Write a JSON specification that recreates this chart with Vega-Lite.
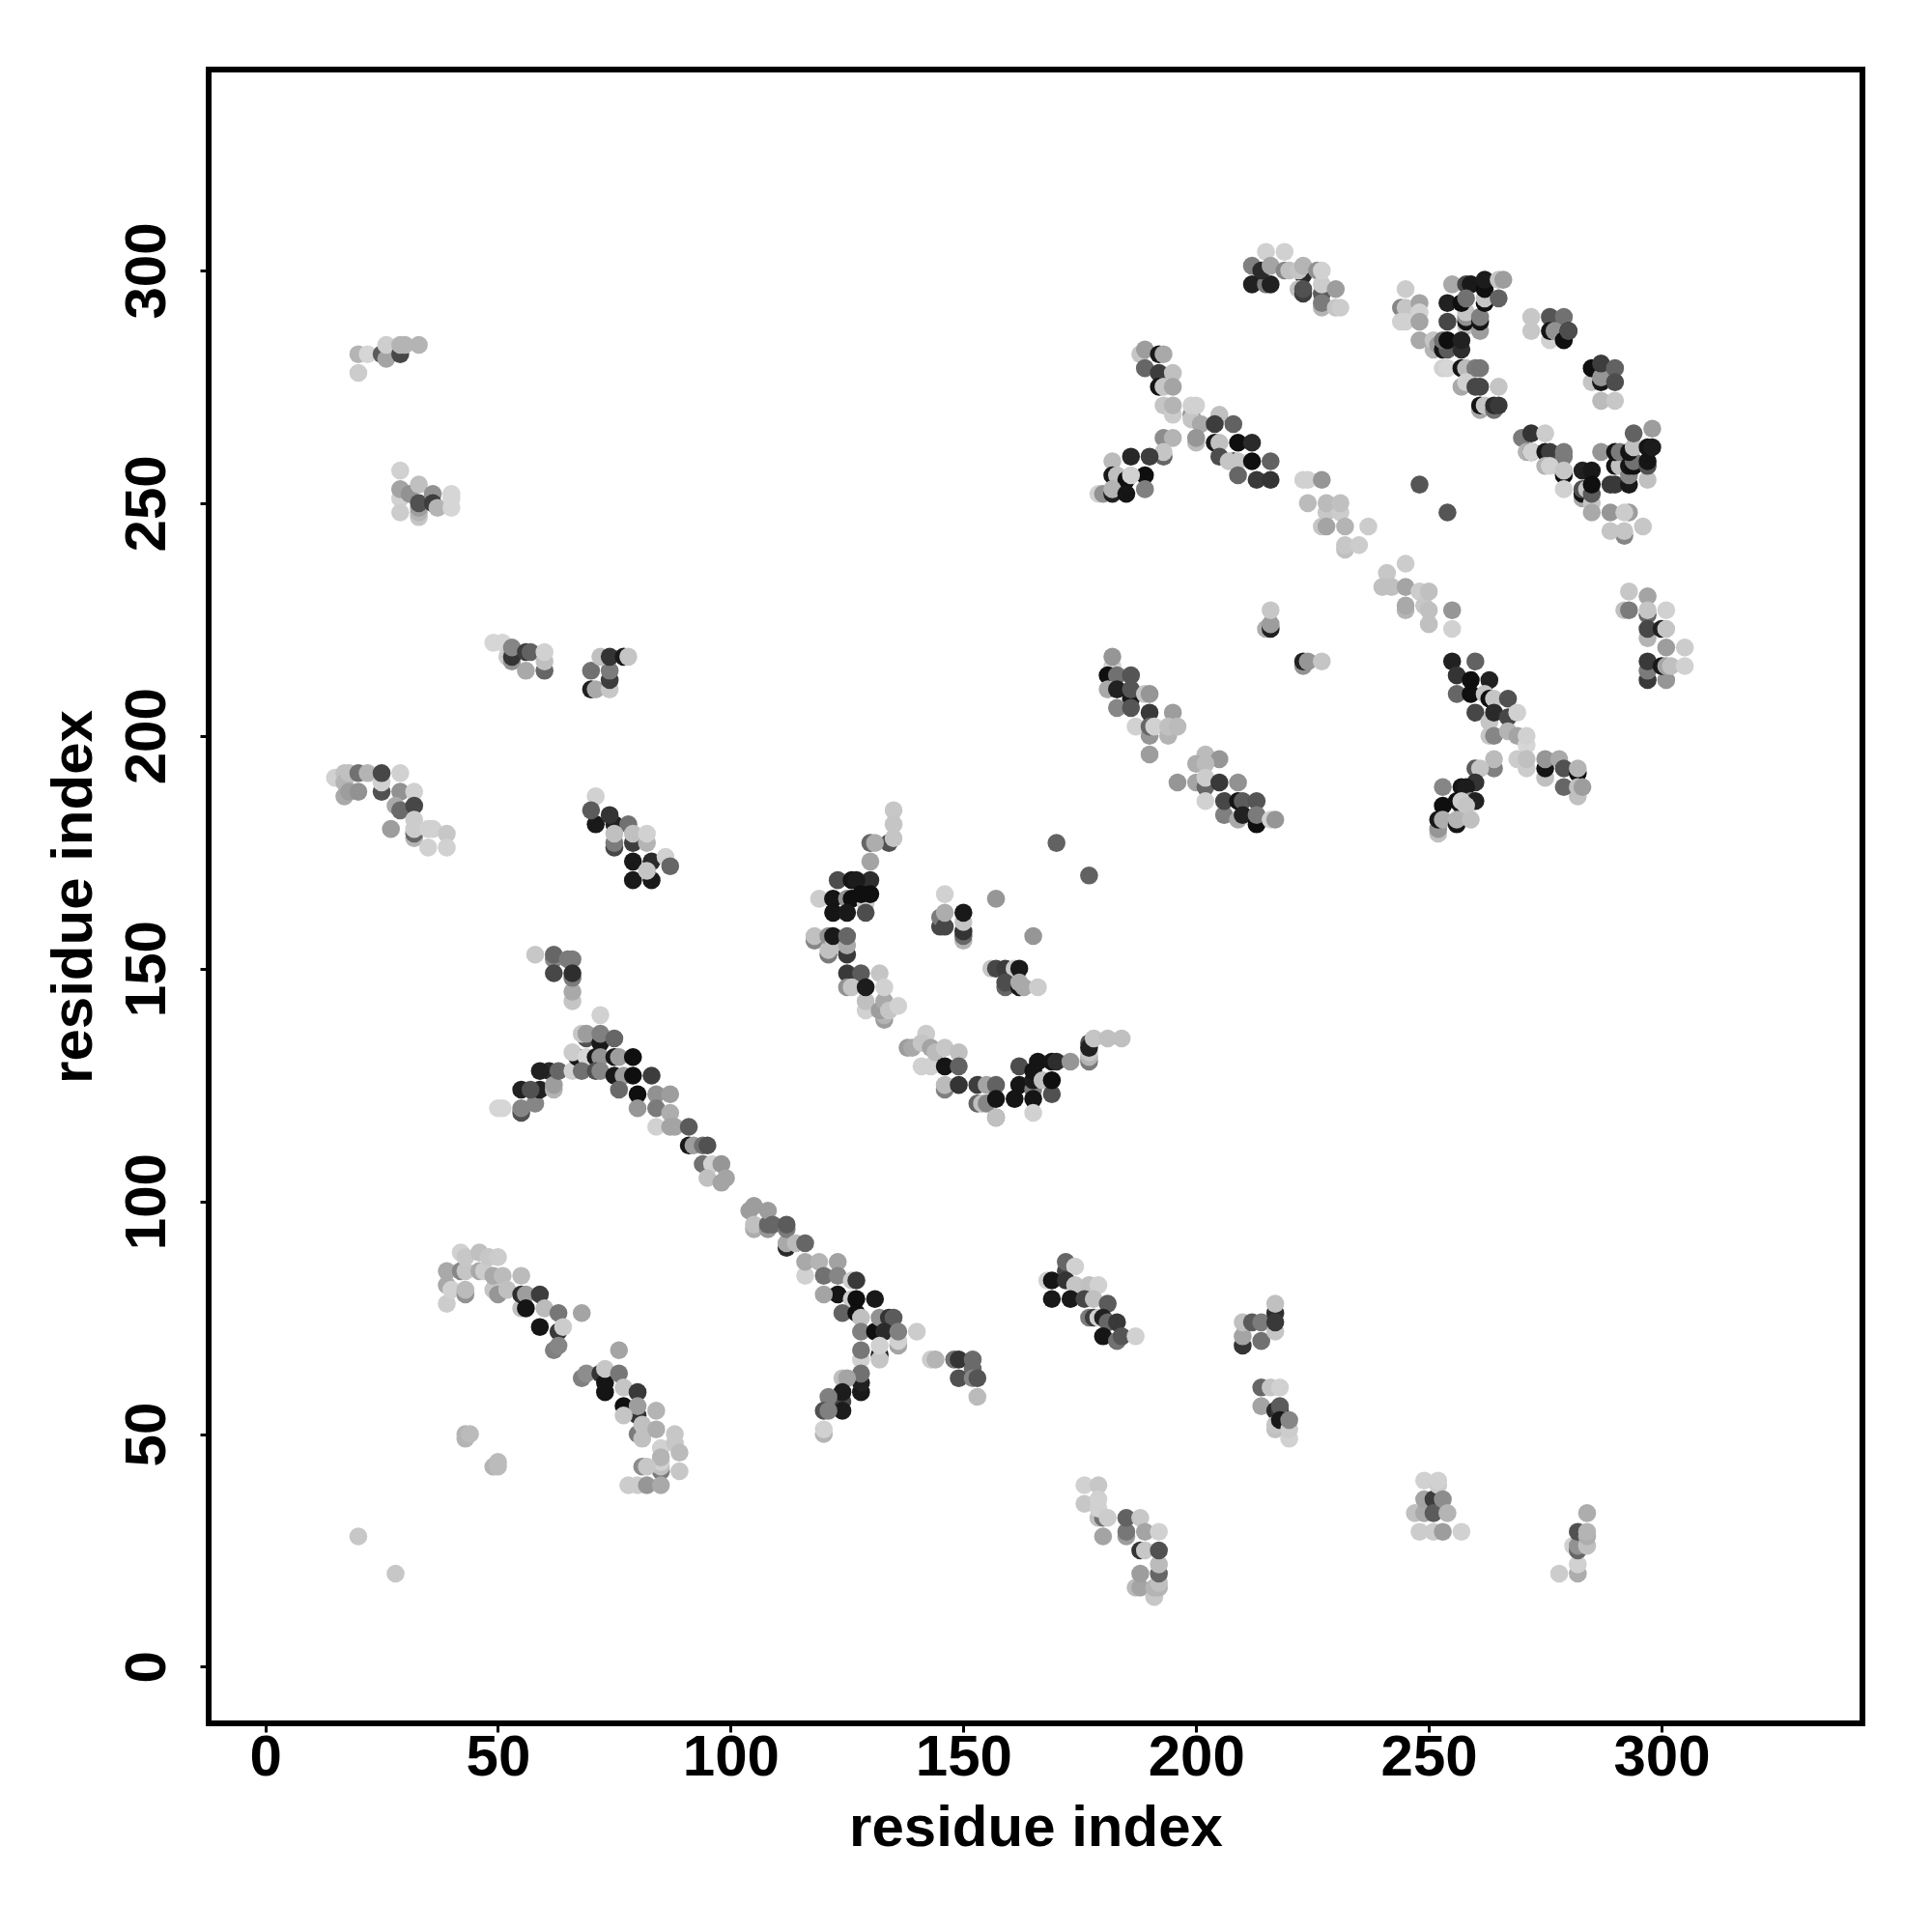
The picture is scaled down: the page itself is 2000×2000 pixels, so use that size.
{"$schema":"https://vega.github.io/schema/vega-lite/v6.json","width":1712,"height":1712,"autosize":{"type":"none"},"padding":{"left":216,"top":72,"right":72,"bottom":216},"background":"white","view":{"stroke":"black","strokeWidth":6,"fill":"white"},
"data":{"values":[
{"i":20,"j":282,"s":85},{"i":20,"j":278,"s":95},{"i":22,"j":282,"s":99},{"i":25,"j":282,"s":45},{"i":26,"j":281,"s":78},{"i":26,"j":284,"s":96},{"i":29,"j":282,"s":35},{"i":29,"j":284,"s":85},{"i":30,"j":284,"s":85},{"i":33,"j":284,"s":85},
{"i":29,"j":257,"s":97},{"i":29,"j":251,"s":97},{"i":29,"j":253,"s":78},{"i":29,"j":248,"s":95},{"i":31,"j":252,"s":70},{"i":33,"j":247,"s":92},{"i":33,"j":248,"s":85},{"i":33,"j":249,"s":75},{"i":33,"j":250,"s":40},{"i":33,"j":254,"s":90},{"i":36,"j":252,"s":70},{"i":36,"j":250,"s":30},{"i":37,"j":249,"s":85},{"i":40,"j":252,"s":99},{"i":40,"j":249,"s":99},{"i":40,"j":251,"s":99},
{"i":49,"j":220,"s":99},{"i":51,"j":220,"s":99},{"i":52,"j":217,"s":95},{"i":53,"j":216,"s":70},{"i":53,"j":217,"s":25},{"i":53,"j":219,"s":65},{"i":56,"j":218,"s":30},{"i":57,"j":218,"s":48},{"i":56,"j":214,"s":80},{"i":60,"j":214,"s":50},{"i":60,"j":216,"s":90},{"i":60,"j":218,"s":97},
{"i":70,"j":210,"s":15},{"i":70,"j":214,"s":55},{"i":71,"j":210,"s":80},{"i":74,"j":210,"s":93},{"i":74,"j":212,"s":30},{"i":74,"j":214,"s":60},{"i":72,"j":217,"s":90},{"i":74,"j":217,"s":25},{"i":77,"j":217,"s":10},{"i":78,"j":217,"s":92},
{"i":15,"j":191,"s":97},{"i":17,"j":192,"s":90},{"i":17,"j":190,"s":85},{"i":17,"j":187,"s":80},{"i":18,"j":192,"s":90},{"i":18,"j":188,"s":75},{"i":20,"j":192,"s":55},{"i":20,"j":188,"s":70},{"i":22,"j":192,"s":85},{"i":25,"j":188,"s":40},{"i":25,"j":190,"s":97},{"i":25,"j":192,"s":35},{"i":29,"j":192,"s":97},{"i":29,"j":188,"s":70},{"i":28,"j":185,"s":80},{"i":29,"j":184,"s":52},{"i":32,"j":188,"s":97},{"i":32,"j":185,"s":35},{"i":27,"j":180,"s":75},{"i":32,"j":178,"s":85},{"i":32,"j":179,"s":50},{"i":32,"j":180,"s":95},{"i":32,"j":182,"s":95},{"i":35,"j":180,"s":97},{"i":35,"j":176,"s":97},{"i":36,"j":180,"s":97},{"i":39,"j":179,"s":93},{"i":39,"j":176,"s":97},
{"i":71,"j":187,"s":97},{"i":71,"j":181,"s":10},{"i":70,"j":184,"s":45},{"i":75,"j":181,"s":15},{"i":74,"j":183,"s":25},{"i":78,"j":181,"s":55},{"i":75,"j":176,"s":35},{"i":75,"j":177,"s":60},{"i":75,"j":179,"s":90},{"i":79,"j":177,"s":30},{"i":79,"j":179,"s":90},{"i":82,"j":177,"s":85},{"i":82,"j":179,"s":97},{"i":79,"j":173,"s":10},{"i":79,"j":169,"s":10},{"i":83,"j":173,"s":20},{"i":83,"j":169,"s":10},{"i":82,"j":171,"s":92},{"i":86,"j":174,"s":97},{"i":87,"j":172,"s":50},
{"i":58,"j":153,"s":93},{"i":62,"j":152,"s":65},{"i":62,"j":153,"s":50},{"i":62,"j":149,"s":35},{"i":65,"j":152,"s":60},{"i":66,"j":152,"s":60},{"i":66,"j":143,"s":92},{"i":66,"j":145,"s":80},{"i":66,"j":148,"s":60},{"i":66,"j":149,"s":22},
{"i":50,"j":120,"s":99},{"i":51,"j":120,"s":99},{"i":55,"j":119,"s":40},{"i":55,"j":120,"s":65},{"i":55,"j":124,"s":15},{"i":58,"j":121,"s":65},{"i":59,"j":124,"s":15},{"i":57,"j":124,"s":40},{"i":61,"j":128,"s":20},{"i":59,"j":128,"s":15},{"i":62,"j":124,"s":85},{"i":62,"j":125,"s":75},{"i":63,"j":128,"s":50},{"i":66,"j":128,"s":97},{"i":67,"j":131,"s":10},{"i":66,"j":132,"s":95},{"i":69,"j":131,"s":99},{"i":68,"j":128,"s":55},{"i":69,"j":135,"s":40},{"i":68,"j":136,"s":93},{"i":69,"j":136,"s":75},{"i":72,"j":140,"s":97},{"i":72,"j":134,"s":10},{"i":72,"j":136,"s":62},{"i":71,"j":131,"s":10},{"i":72,"j":131,"s":70},{"i":71,"j":128,"s":40},{"i":72,"j":128,"s":65},{"i":75,"j":135,"s":50},{"i":75,"j":131,"s":10},{"i":76,"j":131,"s":75},{"i":75,"j":127,"s":10},{"i":77,"j":127,"s":75},{"i":76,"j":124,"s":52},{"i":79,"j":131,"s":5},{"i":79,"j":127,"s":5},{"i":80,"j":123,"s":5},{"i":80,"j":120,"s":72},{"i":83,"j":127,"s":30},{"i":84,"j":123,"s":70},{"i":87,"j":123,"s":75},{"i":84,"j":120,"s":60},{"i":87,"j":119,"s":82},{"i":84,"j":116,"s":97},{"i":87,"j":116,"s":78},{"i":88,"j":116,"s":78},{"i":91,"j":116,"s":45},{"i":91,"j":112,"s":10},{"i":92,"j":112,"s":75},{"i":94,"j":112,"s":55},{"i":95,"j":112,"s":40},{"i":94,"j":108,"s":55},{"i":96,"j":108,"s":97},{"i":98,"j":108,"s":72},{"i":95,"j":105,"s":90},{"i":98,"j":104,"s":78},{"i":99,"j":105,"s":78},
{"i":104,"j":98,"s":75},{"i":105,"j":99,"s":75},{"i":105,"j":94,"s":82},{"i":105,"j":95,"s":90},{"i":108,"j":94,"s":72},{"i":108,"j":95,"s":50},{"i":108,"j":98,"s":75},{"i":109,"j":95,"s":50},{"i":112,"j":90,"s":20},{"i":112,"j":91,"s":80},{"i":112,"j":94,"s":60},{"i":112,"j":95,"s":45},{"i":114,"j":91,"s":88},{"i":116,"j":91,"s":50},{"i":116,"j":84,"s":97},{"i":116,"j":87,"s":80},{"i":119,"j":87,"s":85},{"i":123,"j":87,"s":77},{"i":120,"j":84,"s":55},{"i":123,"j":84,"s":65},{"i":123,"j":80,"s":8},{"i":120,"j":80,"s":78},{"i":126,"j":83,"s":95},{"i":127,"j":83,"s":28},{"i":126,"j":79,"s":95},{"i":127,"j":79,"s":5},{"i":131,"j":79,"s":10},{"i":124,"j":76,"s":48},{"i":127,"j":76,"s":5},{"i":128,"j":75,"s":90},{"i":128,"j":72,"s":62},{"i":128,"j":66,"s":97},{"i":128,"j":68,"s":58},{"i":131,"j":72,"s":5},{"i":132,"j":75,"s":70},{"i":134,"j":75,"s":25},{"i":135,"j":75,"s":45},{"i":133,"j":72,"s":20},{"i":132,"j":67,"s":15},{"i":132,"j":66,"s":92},{"i":132,"j":69,"s":97},{"i":136,"j":69,"s":78},{"i":136,"j":70,"s":97},{"i":136,"j":72,"s":62},{"i":140,"j":72,"s":95},
{"i":128,"j":59,"s":10},{"i":128,"j":61,"s":15},{"i":128,"j":63,"s":55},{"i":124,"j":62,"s":90},{"i":125,"j":62,"s":78},{"i":124,"j":57,"s":35},{"i":124,"j":59,"s":12},{"i":121,"j":58,"s":62},{"i":124,"j":55,"s":12},{"i":120,"j":55,"s":40},{"i":121,"j":55,"s":62},{"i":120,"j":50,"s":85},{"i":120,"j":51,"s":97},
{"i":143,"j":66,"s":95},{"i":144,"j":66,"s":85},{"i":148,"j":66,"s":55},{"i":149,"j":66,"s":25},{"i":152,"j":64,"s":52},{"i":152,"j":66,"s":52},{"i":149,"j":62,"s":40},{"i":152,"j":62,"s":65},{"i":153,"j":62,"s":42},{"i":153,"j":58,"s":88},
{"i":172,"j":85,"s":35},{"i":172,"j":87,"s":50},{"i":174,"j":86,"s":97},{"i":168,"j":83,"s":97},{"i":169,"j":83,"s":8},{"i":172,"j":83,"s":25},{"i":174,"j":82,"s":92},{"i":169,"j":79,"s":10},{"i":173,"j":79,"s":10},{"i":177,"j":82,"s":90},{"i":179,"j":82,"s":97},{"i":176,"j":79,"s":35},{"i":178,"j":79,"s":90},{"i":181,"j":78,"s":45},{"i":177,"j":75,"s":60},{"i":178,"j":75,"s":30},{"i":179,"j":75,"s":97},{"i":180,"j":75,"s":15},{"i":181,"j":74,"s":50},{"i":183,"j":74,"s":28},{"i":180,"j":71,"s":8},{"i":183,"j":70,"s":55},{"i":184,"j":71,"s":42},{"i":187,"j":71,"s":97},
{"i":39,"j":85,"s":80},{"i":39,"j":82,"s":80},{"i":39,"j":78,"s":95},{"i":40,"j":81,"s":97},{"i":42,"j":85,"s":65},{"i":43,"j":85,"s":92},{"i":43,"j":80,"s":70},{"i":43,"j":81,"s":88},{"i":42,"j":89,"s":97},{"i":43,"j":88,"s":93},{"i":46,"j":85,"s":80},{"i":47,"j":85,"s":95},{"i":46,"j":89,"s":90},{"i":48,"j":88,"s":93},{"i":50,"j":88,"s":95},{"i":49,"j":81,"s":92},{"i":50,"j":80,"s":72},{"i":49,"j":84,"s":80},{"i":51,"j":84,"s":88},{"i":52,"j":81,"s":90},{"i":55,"j":84,"s":88},{"i":55,"j":77,"s":90},{"i":55,"j":80,"s":22},{"i":56,"j":80,"s":75},{"i":59,"j":80,"s":30},{"i":56,"j":77,"s":8},{"i":59,"j":73,"s":8},{"i":60,"j":77,"s":88},{"i":63,"j":72,"s":28},{"i":63,"j":76,"s":58},{"i":64,"j":73,"s":95},{"i":62,"j":68,"s":62},{"i":63,"j":69,"s":65},{"i":68,"j":76,"s":78},
{"i":76,"j":68,"s":78},{"i":68,"j":62,"s":62},{"i":69,"j":63,"s":68},{"i":72,"j":63,"s":25},{"i":73,"j":59,"s":8},{"i":73,"j":61,"s":8},{"i":73,"j":64,"s":93},{"i":76,"j":63,"s":58},{"i":77,"j":56,"s":5},{"i":77,"j":60,"s":92},{"i":80,"j":59,"s":28},{"i":80,"j":54,"s":25},{"i":80,"j":56,"s":75},{"i":77,"j":54,"s":92},{"i":84,"j":55,"s":85},{"i":80,"j":50,"s":60},{"i":81,"j":49,"s":90},{"i":81,"j":52,"s":90},{"i":84,"j":51,"s":82},{"i":88,"j":50,"s":93},{"i":85,"j":47,"s":97},{"i":88,"j":48,"s":93},{"i":89,"j":46,"s":88},{"i":85,"j":42,"s":60},{"i":85,"j":43,"s":90},{"i":85,"j":44,"s":97},{"i":85,"j":45,"s":85},{"i":81,"j":43,"s":68},{"i":82,"j":43,"s":93},{"i":89,"j":42,"s":93},{"i":78,"j":39,"s":95},{"i":80,"j":39,"s":95},{"i":82,"j":39,"s":72},{"i":85,"j":39,"s":80},
{"i":43,"j":49,"s":85},{"i":43,"j":50,"s":85},{"i":44,"j":50,"s":88},{"i":49,"j":43,"s":85},{"i":50,"j":43,"s":88},{"i":50,"j":44,"s":88},{"i":20,"j":28,"s":93},{"i":28,"j":20,"s":93},
{"i":210,"j":69,"s":25},{"i":210,"j":71,"s":78},{"i":210,"j":74,"s":90},{"i":212,"j":74,"s":45},{"i":214,"j":70,"s":55},{"i":214,"j":74,"s":60},{"i":217,"j":72,"s":92},{"i":217,"j":76,"s":22},{"i":217,"j":74,"s":28},{"i":217,"j":78,"s":90},
{"i":214,"j":60,"s":50},{"i":214,"j":56,"s":78},{"i":216,"j":60,"s":92},{"i":218,"j":60,"s":97},{"i":217,"j":55,"s":20},{"i":218,"j":55,"s":30},{"i":218,"j":56,"s":45},{"i":217,"j":51,"s":90},{"i":217,"j":52,"s":92},{"i":218,"j":53,"s":10},{"i":220,"j":49,"s":97},{"i":220,"j":51,"s":95},{"i":220,"j":53,"s":65},
{"i":176,"j":39,"s":97},{"i":179,"j":39,"s":93},{"i":176,"j":35,"s":93},{"i":179,"j":36,"s":97},{"i":179,"j":32,"s":90},{"i":180,"j":32,"s":55},{"i":179,"j":34,"s":97},{"i":181,"j":32,"s":95},{"i":180,"j":28,"s":78},{"i":185,"j":28,"s":75},{"i":185,"j":29,"s":58},{"i":185,"j":32,"s":48},{"i":188,"j":32,"s":93},{"i":189,"j":29,"s":78},{"i":192,"j":29,"s":97},{"i":188,"j":25,"s":25},{"i":189,"j":25,"s":93},{"i":187,"j":17,"s":88},{"i":188,"j":17,"s":78},{"i":188,"j":20,"s":75},{"i":191,"j":15,"s":93},{"i":191,"j":17,"s":85},{"i":192,"j":17,"s":85},{"i":192,"j":18,"s":90},{"i":192,"j":20,"s":50},{"i":192,"j":22,"s":88},{"i":192,"j":25,"s":40},
{"i":247,"j":33,"s":90},{"i":249,"j":33,"s":80},{"i":249,"j":36,"s":78},{"i":251,"j":36,"s":30},{"i":251,"j":33,"s":45},{"i":249,"j":40,"s":97},{"i":252,"j":39,"s":95},{"i":252,"j":40,"s":97},{"i":253,"j":36,"s":68},{"i":254,"j":33,"s":85},{"i":248,"j":29,"s":95},{"i":251,"j":29,"s":95},{"i":257,"j":29,"s":97},{"i":253,"j":29,"s":75},
{"i":282,"j":20,"s":82},{"i":282,"j":22,"s":97},{"i":278,"j":20,"s":95},{"i":281,"j":26,"s":97},{"i":282,"j":25,"s":50},{"i":282,"j":26,"s":70},{"i":284,"j":26,"s":90},{"i":282,"j":29,"s":40},{"i":284,"j":28,"s":82},{"i":284,"j":29,"s":85},{"i":284,"j":33,"s":82},
{"i":215,"j":304,"s":97},{"i":219,"j":304,"s":97},{"i":212,"j":297,"s":15},{"i":215,"j":297,"s":60},{"i":216,"j":297,"s":15},{"i":212,"j":301,"s":62},{"i":214,"j":300,"s":20},{"i":216,"j":301,"s":78},{"i":219,"j":300,"s":65},{"i":220,"j":300,"s":90},{"i":223,"j":299,"s":20},{"i":222,"j":300,"s":92},{"i":223,"j":301,"s":85},{"i":222,"j":296,"s":90},{"i":223,"j":295,"s":30},{"i":223,"j":296,"s":40},{"i":226,"j":300,"s":70},{"i":227,"j":295,"s":45},{"i":227,"j":297,"s":95},{"i":227,"j":300,"s":97},{"i":230,"j":296,"s":75},{"i":227,"j":292,"s":85},{"i":227,"j":293,"s":60},{"i":230,"j":292,"s":92},{"i":231,"j":292,"s":95},
{"i":188,"j":282,"s":92},{"i":189,"j":283,"s":75},{"i":189,"j":279,"s":50},{"i":192,"j":282,"s":10},{"i":193,"j":282,"s":80},{"i":192,"j":278,"s":30},{"i":195,"j":278,"s":90},{"i":192,"j":275,"s":8},{"i":193,"j":275,"s":92},{"i":195,"j":275,"s":78},{"i":193,"j":271,"s":92},{"i":195,"j":269,"s":95},{"i":195,"j":271,"s":85},{"i":199,"j":269,"s":70},{"i":199,"j":268,"s":92},{"i":199,"j":271,"s":97},{"i":200,"j":271,"s":97},{"i":201,"j":267,"s":80},{"i":200,"j":263,"s":88},{"i":200,"j":264,"s":72},
{"i":193,"j":264,"s":68},{"i":195,"j":264,"s":85},{"i":193,"j":260,"s":50},{"i":193,"j":261,"s":92},{"i":186,"j":260,"s":18},{"i":190,"j":260,"s":30},{"i":182,"j":259,"s":88},{"i":189,"j":256,"s":5},{"i":182,"j":256,"s":10},{"i":183,"j":256,"s":90},{"i":185,"j":255,"s":5},{"i":186,"j":256,"s":97},{"i":189,"j":253,"s":62},{"i":179,"j":252,"s":97},{"i":180,"j":252,"s":70},{"i":182,"j":252,"s":15},{"i":182,"j":253,"s":85},{"i":185,"j":252,"s":8},
{"i":205,"j":269,"s":90},{"i":204,"j":267,"s":30},{"i":208,"j":267,"s":48},{"i":204,"j":263,"s":10},{"i":205,"j":263,"s":90},{"i":209,"j":263,"s":5},{"i":212,"j":263,"s":20},{"i":205,"j":260,"s":38},{"i":208,"j":259,"s":10},{"i":207,"j":259,"s":92},{"i":209,"j":259,"s":92},{"i":212,"j":259,"s":5},{"i":216,"j":259,"s":48},{"i":209,"j":256,"s":50},{"i":213,"j":255,"s":28},{"i":216,"j":255,"s":25},
{"i":223,"j":255,"s":97},{"i":224,"j":255,"s":97},{"i":227,"j":255,"s":72},{"i":224,"j":250,"s":88},{"i":228,"j":248,"s":93},{"i":228,"j":250,"s":88},{"i":231,"j":248,"s":95},{"i":231,"j":250,"s":90},{"i":227,"j":245,"s":92},{"i":228,"j":245,"s":78},{"i":232,"j":245,"s":85},{"i":237,"j":245,"s":95},{"i":232,"j":240,"s":90},{"i":232,"j":241,"s":93},{"i":235,"j":241,"s":95},{"i":248,"j":254,"s":42},{"i":254,"j":248,"s":42},
{"i":245,"j":237,"s":95},{"i":241,"j":235,"s":93},{"i":240,"j":232,"s":90},{"i":242,"j":232,"s":90},{"i":245,"j":232,"s":78},{"i":245,"j":227,"s":85},{"i":245,"j":228,"s":80},{"i":248,"j":231,"s":95},{"i":249,"j":228,"s":93},{"i":250,"j":224,"s":90},{"i":250,"j":227,"s":90},{"i":250,"j":231,"s":90},{"i":255,"j":223,"s":97},{"i":255,"j":227,"s":72},
{"i":245,"j":296,"s":95},{"i":244,"j":292,"s":65},{"i":245,"j":292,"s":92},{"i":248,"j":293,"s":78},{"i":244,"j":289,"s":97},{"i":245,"j":289,"s":97},{"i":248,"j":291,"s":97},{"i":248,"j":289,"s":78},{"i":255,"j":297,"s":80},{"i":254,"j":293,"s":15},{"i":254,"j":289,"s":35},{"i":258,"j":297,"s":35},{"i":259,"j":297,"s":10},{"i":258,"j":288,"s":90},{"i":258,"j":289,"s":8},{"i":258,"j":290,"s":70},{"i":258,"j":291,"s":92},{"i":257,"j":293,"s":5},{"i":258,"j":294,"s":55},{"i":261,"j":287,"s":75},{"i":261,"j":289,"s":8},{"i":261,"j":290,"s":62},{"i":262,"j":293,"s":5},{"i":262,"j":294,"s":92},{"i":262,"j":296,"s":5},{"i":262,"j":298,"s":12},{"i":265,"j":298,"s":92},{"i":266,"j":298,"s":75},{"i":265,"j":294,"s":48},
{"i":248,"j":285,"s":80},{"i":251,"j":283,"s":85},{"i":251,"j":285,"s":92},{"i":252,"j":284,"s":75},{"i":253,"j":283,"s":8},{"i":254,"j":283,"s":45},{"i":253,"j":285,"s":55},{"i":254,"j":285,"s":5},{"i":257,"j":283,"s":22},{"i":257,"j":285,"s":15},
{"i":253,"j":279,"s":97},{"i":254,"j":279,"s":99},{"i":257,"j":279,"s":8},{"i":258,"j":279,"s":88},{"i":260,"j":279,"s":60},{"i":261,"j":279,"s":58},{"i":257,"j":275,"s":80},{"i":258,"j":276,"s":97},{"i":260,"j":275,"s":35},{"i":261,"j":275,"s":35},{"i":261,"j":270,"s":80},{"i":261,"j":271,"s":8},{"i":262,"j":271,"s":92},{"i":265,"j":275,"s":92},{"i":264,"j":270,"s":55},{"i":264,"j":271,"s":20},{"i":265,"j":271,"s":28},
{"i":272,"j":290,"s":93},{"i":272,"j":287,"s":93},{"i":276,"j":290,"s":42},{"i":279,"j":290,"s":55},{"i":276,"j":285,"s":97},{"i":276,"j":287,"s":8},{"i":277,"j":287,"s":70},{"i":279,"j":285,"s":5},{"i":280,"j":287,"s":10},{"i":280,"j":287,"s":38},
{"i":285,"j":276,"s":92},{"i":285,"j":279,"s":5},{"i":287,"j":272,"s":88},{"i":290,"j":272,"s":93},{"i":287,"j":276,"s":10},{"i":287,"j":277,"s":72},{"i":287,"j":280,"s":30},{"i":290,"j":279,"s":48},{"i":290,"j":276,"s":38},
{"i":270,"j":264,"s":60},{"i":271,"j":261,"s":85},{"i":272,"j":261,"s":8},{"i":272,"j":265,"s":25},{"i":272,"j":261,"s":97},{"i":275,"j":265,"s":95},{"i":275,"j":261,"s":10},{"i":276,"j":261,"s":30},{"i":279,"j":260,"s":60},{"i":279,"j":261,"s":60},{"i":275,"j":258,"s":85},{"i":276,"j":258,"s":97},{"i":279,"j":256,"s":5},{"i":279,"j":257,"s":93},{"i":279,"j":253,"s":97},{"i":283,"j":251,"s":80},{"i":283,"j":252,"s":8},{"i":283,"j":253,"s":40},{"i":284,"j":253,"s":92},{"i":283,"j":257,"s":15},{"i":285,"j":257,"s":10},{"i":285,"j":250,"s":92},{"i":285,"j":252,"s":45},{"i":285,"j":254,"s":5},{"i":285,"j":248,"s":80},{"i":289,"j":248,"s":72},{"i":293,"j":248,"s":75},{"i":292,"j":243,"s":65},{"i":289,"j":244,"s":92},{"i":292,"j":244,"s":92},{"i":292,"j":248,"s":95},{"i":296,"j":245,"s":93},
{"i":287,"j":261,"s":72},{"i":289,"j":254,"s":28},{"i":290,"j":254,"s":28},{"i":290,"j":258,"s":8},{"i":291,"j":258,"s":90},{"i":290,"j":261,"s":8},{"i":291,"j":261,"s":60},{"i":293,"j":254,"s":10},{"i":293,"j":256,"s":65},{"i":293,"j":258,"s":8},{"i":294,"j":258,"s":5},{"i":294,"j":259,"s":55},{"i":293,"j":261,"s":8},{"i":294,"j":262,"s":90},{"i":294,"j":265,"s":48},{"i":297,"j":255,"s":90},{"i":297,"j":258,"s":40},{"i":297,"j":259,"s":8},{"i":298,"j":266,"s":75},{"i":297,"j":262,"s":8},{"i":298,"j":262,"s":12},
{"i":215,"j":223,"s":82},{"i":216,"j":223,"s":15},{"i":216,"j":224,"s":75},{"i":216,"j":227,"s":93},{"i":223,"j":215,"s":70},{"i":223,"j":216,"s":15},{"i":224,"j":216,"s":72},{"i":227,"j":216,"s":92},
{"i":182,"j":215,"s":97},{"i":182,"j":217,"s":72},{"i":181,"j":213,"s":5},{"i":183,"j":213,"s":55},{"i":186,"j":213,"s":42},{"i":181,"j":210,"s":80},{"i":183,"j":210,"s":15},{"i":186,"j":208,"s":10},{"i":186,"j":210,"s":42},{"i":189,"j":209,"s":92},{"i":190,"j":209,"s":72},{"i":183,"j":206,"s":65},{"i":186,"j":206,"s":42},{"i":190,"j":205,"s":28},{"i":187,"j":202,"s":97},{"i":190,"j":200,"s":72},{"i":190,"j":202,"s":50},{"i":191,"j":202,"s":97},{"i":195,"j":205,"s":75},{"i":194,"j":200,"s":85},{"i":194,"j":202,"s":90},{"i":196,"j":202,"s":88},{"i":190,"j":196,"s":75},
{"i":202,"j":196,"s":88},{"i":205,"j":195,"s":72},{"i":200,"j":194,"s":82},{"i":202,"j":194,"s":88},{"i":196,"j":190,"s":72},{"i":200,"j":190,"s":78},{"i":202,"j":189,"s":50},{"i":202,"j":191,"s":95},{"i":205,"j":190,"s":28},{"i":209,"j":190,"s":70},{"i":202,"j":186,"s":97},{"i":206,"j":183,"s":62},{"i":206,"j":186,"s":35},{"i":209,"j":186,"s":8},{"i":210,"j":186,"s":45},{"i":213,"j":186,"s":42},{"i":209,"j":182,"s":80},{"i":210,"j":183,"s":15},{"i":213,"j":181,"s":5},{"i":213,"j":183,"s":60},{"i":216,"j":182,"s":97},{"i":217,"j":182,"s":72},
{"i":255,"j":216,"s":15},{"i":260,"j":216,"s":48},{"i":256,"j":213,"s":25},{"i":259,"j":212,"s":5},{"i":263,"j":212,"s":15},{"i":256,"j":209,"s":50},{"i":259,"j":209,"s":5},{"i":262,"j":209,"s":92},{"i":263,"j":208,"s":5},{"i":264,"j":208,"s":92},{"i":267,"j":208,"s":40},{"i":260,"j":205,"s":35},{"i":263,"j":203,"s":92},{"i":264,"j":205,"s":20},{"i":267,"j":204,"s":35},{"i":269,"j":205,"s":97},{"i":263,"j":200,"s":92},{"i":264,"j":200,"s":65},{"i":267,"j":201,"s":85},{"i":269,"j":200,"s":78},{"i":271,"j":198,"s":99},{"i":271,"j":200,"s":97},{"i":269,"j":195,"s":95},{"i":271,"j":193,"s":95},{"i":271,"j":195,"s":90},{"i":275,"j":191,"s":90},{"i":275,"j":193,"s":8},{"i":275,"j":195,"s":72},{"i":278,"j":195,"s":80},{"i":279,"j":193,"s":40},{"i":282,"j":192,"s":5},{"i":282,"j":193,"s":85},{"i":282,"j":187,"s":90},{"i":279,"j":189,"s":50},{"i":282,"j":189,"s":90},{"i":283,"j":189,"s":75},
{"i":264,"j":193,"s":62},{"i":264,"j":195,"s":88},{"i":260,"j":193,"s":45},{"i":261,"j":193,"s":92},{"i":260,"j":190,"s":25},{"i":253,"j":189,"s":65},{"i":257,"j":189,"s":8},{"i":258,"j":189,"s":12},{"i":259,"j":186,"s":70},{"i":260,"j":186,"s":15},{"i":253,"j":185,"s":5},{"i":256,"j":186,"s":5},{"i":257,"j":185,"s":10},{"i":257,"j":186,"s":95},{"i":258,"j":185,"s":92},{"i":252,"j":179,"s":90},{"i":252,"j":180,"s":72},{"i":252,"j":182,"s":10},{"i":253,"j":182,"s":82},{"i":256,"j":181,"s":8},{"i":256,"j":182,"s":85},{"i":259,"j":182,"s":90},
{"i":293,"j":231,"s":93},{"i":297,"j":230,"s":78},{"i":292,"j":227,"s":90},{"i":293,"j":227,"s":60},{"i":297,"j":226,"s":50},{"i":297,"j":227,"s":92},{"i":301,"j":227,"s":97},{"i":297,"j":221,"s":85},{"i":297,"j":223,"s":35},{"i":300,"j":223,"s":15},{"i":301,"j":223,"s":92},{"i":301,"j":219,"s":75},{"i":305,"j":219,"s":95},{"i":297,"j":212,"s":28},{"i":297,"j":214,"s":60},{"i":297,"j":216,"s":28},{"i":301,"j":212,"s":72},{"i":300,"j":215,"s":10},{"i":301,"j":215,"s":78},{"i":302,"j":215,"s":90},{"i":305,"j":215,"s":97},
{"i":135,"j":184,"s":93},{"i":135,"j":181,"s":92},{"i":134,"j":177,"s":40},{"i":135,"j":178,"s":92},{"i":130,"j":177,"s":50},{"i":131,"j":177,"s":82},{"i":130,"j":173,"s":78},{"i":130,"j":169,"s":22},{"i":123,"j":169,"s":38},{"i":126,"j":169,"s":8},{"i":127,"j":169,"s":12},{"i":119,"j":165,"s":95},{"i":122,"j":165,"s":8},{"i":125,"j":165,"s":70},{"i":126,"j":165,"s":5},{"i":129,"j":164,"s":95},{"i":128,"j":166,"s":5},{"i":130,"j":166,"s":5},{"i":122,"j":162,"s":8},{"i":125,"j":162,"s":10},{"i":129,"j":162,"s":38},
{"i":118,"j":156,"s":65},{"i":118,"j":157,"s":90},{"i":121,"j":153,"s":60},{"i":121,"j":154,"s":90},{"i":121,"j":157,"s":70},{"i":122,"j":155,"s":90},{"i":122,"j":157,"s":10},{"i":125,"j":153,"s":28},{"i":125,"j":155,"s":80},{"i":125,"j":157,"s":50},{"i":125,"j":149,"s":28},{"i":128,"j":149,"s":45},{"i":132,"j":149,"s":92},{"i":125,"j":146,"s":70},{"i":126,"j":146,"s":92},{"i":129,"j":141,"s":97},{"i":129,"j":143,"s":90},{"i":129,"j":146,"s":12},{"i":133,"j":139,"s":75},{"i":133,"j":140,"s":85},{"i":132,"j":141,"s":75},{"i":133,"j":143,"s":80},{"i":134,"j":141,"s":92},{"i":136,"j":142,"s":97},{"i":133,"j":146,"s":97},
{"i":146,"j":166,"s":97},{"i":145,"j":159,"s":35},{"i":145,"j":161,"s":60},{"i":146,"j":159,"s":35},{"i":146,"j":162,"s":82},{"i":150,"j":156,"s":85},{"i":150,"j":157,"s":50},{"i":150,"j":158,"s":25},{"i":150,"j":160,"s":92},{"i":150,"j":162,"s":10},{"i":157,"j":165,"s":72},{"i":165,"j":157,"s":72},{"i":170,"j":177,"s":48},{"i":177,"j":170,"s":48},
{"i":156,"j":150,"s":92},{"i":157,"j":150,"s":35},{"i":159,"j":150,"s":30},{"i":161,"j":150,"s":95},{"i":162,"j":150,"s":10},{"i":159,"j":146,"s":50},{"i":159,"j":147,"s":38},{"i":162,"j":146,"s":10},{"i":162,"j":147,"s":80},{"i":163,"j":146,"s":80},{"i":166,"j":146,"s":95},
{"i":138,"j":133,"s":75},{"i":139,"j":133,"s":80},{"i":142,"j":136,"s":95},{"i":141,"j":134,"s":92},{"i":141,"j":129,"s":97},{"i":143,"j":133,"s":78},{"i":143,"j":129,"s":97},{"i":144,"j":132,"s":88},{"i":146,"j":133,"s":93},{"i":149,"j":132,"s":90},{"i":146,"j":129,"s":8},{"i":149,"j":129,"s":48},{"i":146,"j":124,"s":62},{"i":146,"j":125,"s":88},{"i":149,"j":125,"s":25},{"i":153,"j":125,"s":30},{"i":155,"j":125,"s":78},{"i":153,"j":121,"s":50},{"i":154,"j":121,"s":90},{"i":155,"j":121,"s":65},{"i":157,"j":125,"s":48},{"i":157,"j":122,"s":8},{"i":157,"j":118,"s":55},{"i":157,"j":118,"s":90},{"i":161,"j":122,"s":8},{"i":162,"j":125,"s":8},{"i":162,"j":129,"s":38},{"i":165,"j":124,"s":60},{"i":165,"j":122,"s":8},{"i":165,"j":126,"s":12},{"i":165,"j":119,"s":97},{"i":166,"j":130,"s":8},{"i":165,"j":128,"s":8},{"i":167,"j":126,"s":90},{"i":169,"j":123,"s":40},{"i":169,"j":126,"s":5},{"i":169,"j":130,"s":8},{"i":170,"j":130,"s":22},{"i":173,"j":130,"s":72},{"i":177,"j":130,"s":60},{"i":177,"j":131,"s":85},{"i":177,"j":132,"s":92},{"i":177,"j":134,"s":40},{"i":177,"j":133,"s":15},{"i":178,"j":135,"s":92},{"i":181,"j":135,"s":90},{"i":184,"j":135,"s":90}
]},
"mark":{"type":"circle","size":345,"opacity":1},
"encoding":{
"x":{"field":"i","type":"quantitative","title":"residue index","scale":{"domain":[-12.16,343.16],"nice":false,"zero":false},
"axis":{"values":[0,50,100,150,200,250,300],"grid":false,"domain":false,"tickSize":9,"tickWidth":3,"tickColor":"black","labelFont":"Liberation Sans","labelFontWeight":"bold","labelFontSize":60,"labelColor":"black","labelPadding":-3,"labelFlush":false,"labelOverlap":false,"titleFont":"Liberation Sans","titleFontWeight":"bold","titleFontSize":60,"titleColor":"black","titlePadding":14}},
"y":{"field":"j","type":"quantitative","title":"residue index","scale":{"domain":[-12.16,343.16],"nice":false,"zero":false},
"axis":{"values":[0,50,100,150,200,250,300],"grid":false,"domain":false,"tickSize":9,"tickWidth":3,"tickColor":"black","labelFont":"Liberation Sans","labelFontWeight":"bold","labelFontSize":60,"labelColor":"black","labelAngle":-90,"labelAlign":"center","labelBaseline":"bottom","labelPadding":24,"labelFlush":false,"labelOverlap":false,"titleFont":"Liberation Sans","titleFontWeight":"bold","titleFontSize":60,"titleColor":"black","titlePadding":15}},
"color":{"field":"s","type":"quantitative","legend":null,"scale":{"domain":[0,100],"range":["#000000","#d8d8d8"]}}
}}
